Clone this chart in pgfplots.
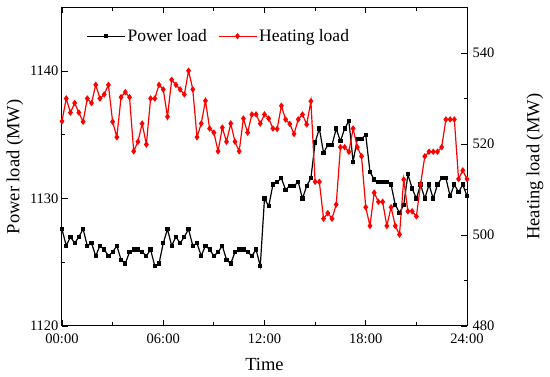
\documentclass[border=0pt]{standalone}
\usepackage{fontspec}
\setmainfont{Liberation Serif}
\usepackage{pgfplots}
\usepackage{pgfplotstable}
\pgfplotsset{compat=1.18}

\pgfplotstableread{
t p h
0.00 1127.6 525.0
0.25 1126.3 530.0
0.50 1127.0 526.9
0.75 1126.5 529.0
1.00 1127.0 526.9
1.25 1127.6 524.9
1.50 1126.3 530.0
1.75 1126.5 529.0
2.00 1125.5 533.0
2.25 1126.3 530.0
2.50 1126.0 530.9
2.75 1125.5 533.0
3.00 1125.8 524.9
3.25 1126.3 521.5
3.50 1125.2 530.3
3.75 1124.9 531.4
4.00 1125.8 530.3
4.25 1126.0 518.4
4.50 1126.0 520.5
4.75 1125.8 524.5
5.00 1125.5 519.9
5.25 1126.0 530.0
5.50 1124.7 530.0
5.75 1124.9 533.0
6.00 1126.5 532.0
6.25 1127.6 526.0
6.50 1126.3 534.1
6.75 1127.0 533.0
7.00 1126.5 532.0
7.25 1127.0 530.9
7.50 1127.6 536.1
7.75 1126.3 532.0
8.00 1126.5 521.5
8.25 1125.5 524.5
8.50 1126.3 529.5
8.75 1126.0 523.4
9.00 1125.5 522.5
9.25 1125.8 518.4
9.50 1126.3 523.6
9.75 1125.2 520.5
10.00 1124.9 524.5
10.25 1125.8 520.5
10.50 1126.0 518.4
10.75 1126.0 525.6
11.00 1125.8 522.5
11.25 1125.5 526.5
11.50 1126.0 526.5
11.75 1124.7 524.5
12.00 1130.0 526.5
12.25 1129.4 525.6
12.50 1131.1 523.4
12.75 1131.3 523.3
13.00 1131.6 528.4
13.25 1130.7 525.4
13.50 1131.0 524.4
13.75 1131.0 522.2
14.00 1131.3 525.4
14.25 1130.0 526.5
14.50 1131.0 524.3
14.75 1131.6 529.4
15.00 1134.4 511.7
15.25 1135.5 511.7
15.50 1133.6 503.6
15.75 1134.2 504.8
16.00 1134.2 503.6
16.25 1135.5 506.7
16.50 1134.5 519.3
16.75 1135.5 519.3
17.00 1136.1 518.3
17.25 1132.9 523.4
17.50 1134.7 519.3
17.75 1134.7 517.3
18.00 1135.0 506.1
18.25 1132.1 502.0
18.50 1131.5 509.3
18.75 1131.3 507.3
19.00 1131.3 507.3
19.25 1131.3 502.0
19.50 1131.1 506.1
19.75 1129.5 502.0
20.00 1128.9 500.1
20.25 1129.5 512.2
20.50 1131.9 505.2
20.75 1130.8 505.2
21.00 1130.0 504.1
21.25 1131.1 511.2
21.50 1130.0 517.3
21.75 1131.1 518.3
22.00 1130.0 518.3
22.25 1131.1 518.3
22.50 1131.6 519.3
22.75 1131.6 525.4
23.00 1130.2 525.4
23.25 1131.1 525.4
23.50 1130.5 512.3
23.75 1131.1 514.2
24.00 1130.2 512.3
}\loaddata

\pgfplotsset{
  every axis/.append style={
    scale only axis, width=405pt, height=318.5pt,
    at={(0,0)}, anchor=south west,
    xmin=0, xmax=24,
    tick align=inside,
    major tick length=6pt, minor tick length=3.5pt,
    every tick/.style={black, line width=0.8pt},
    axis line style={line width=1pt},
    tick label style={font=\fontsize{14.5}{15}\selectfont},
    label style={font=\fontsize{18.5}{19}\selectfont},
    /pgf/number format/assume math mode=true,
    /pgf/number format/1000 sep={},
  },
  leg/.style={legend image code/.code={
    \draw[mark repeat=2,mark phase=2,##1] plot coordinates {(0pt,0pt) (19pt,0pt) (38pt,0pt)};}},
}

\begin{document}
\begin{tikzpicture}
\begin{axis}[
  ymin=1120, ymax=1145,
  axis y line*=left,
  xtick={0,6,12,18,24},
  xticklabels={00:00,06:00,12:00,18:00,24:00},
  minor xtick={3,9,15,21},
  xtick pos=both,
  ytick={1120,1130,1140},
  minor ytick={1125,1135},
  xticklabel style={yshift=-6.5pt, inner ysep=1pt},
  xlabel={Time},
  ylabel={Power load (MW)},
  xlabel style={at={(axis description cs:0.5,-0.12)}, anchor=center},
  ylabel style={at={(axis description cs:-0.116,0.5)}, anchor=center},
  leg,
  legend style={at={(axis description cs:0.06,0.91)}, anchor=west, draw=none, fill=none,
    inner xsep=0pt, legend columns=2, font=\fontsize{17.5}{18}\selectfont,
    /tikz/every even column/.append style={column sep=9pt}},
]
\addplot[black, line width=1.2pt, mark=square*, mark size=1.5pt] table[x=t, y=p] {\loaddata};
\addlegendentry{Power load}
\addlegendimage{red, line width=1.2pt, mark=diamond*, mark size=2.3pt}
\addlegendentry{Heating load}
\end{axis}
\begin{axis}[
  ymin=480, ymax=550,
  axis y line*=right,
  axis x line=none,
  ytick={480,500,520,540},
  minor ytick={490,510,530},
  yticklabel style={xshift=2pt, inner ysep=1pt},
  ylabel={Heating load (MW)},
  ylabel style={at={(axis description cs:1.168,0.5)}, anchor=center},
]
\addplot[red, line width=1.2pt, mark=diamond*, mark size=2.3pt] table[x=t, y=h] {\loaddata};
\end{axis}
\pgfresetboundingbox
\path[use as bounding box] (-62pt,-51pt) rectangle (488pt,326pt);
\end{tikzpicture}
\end{document}
